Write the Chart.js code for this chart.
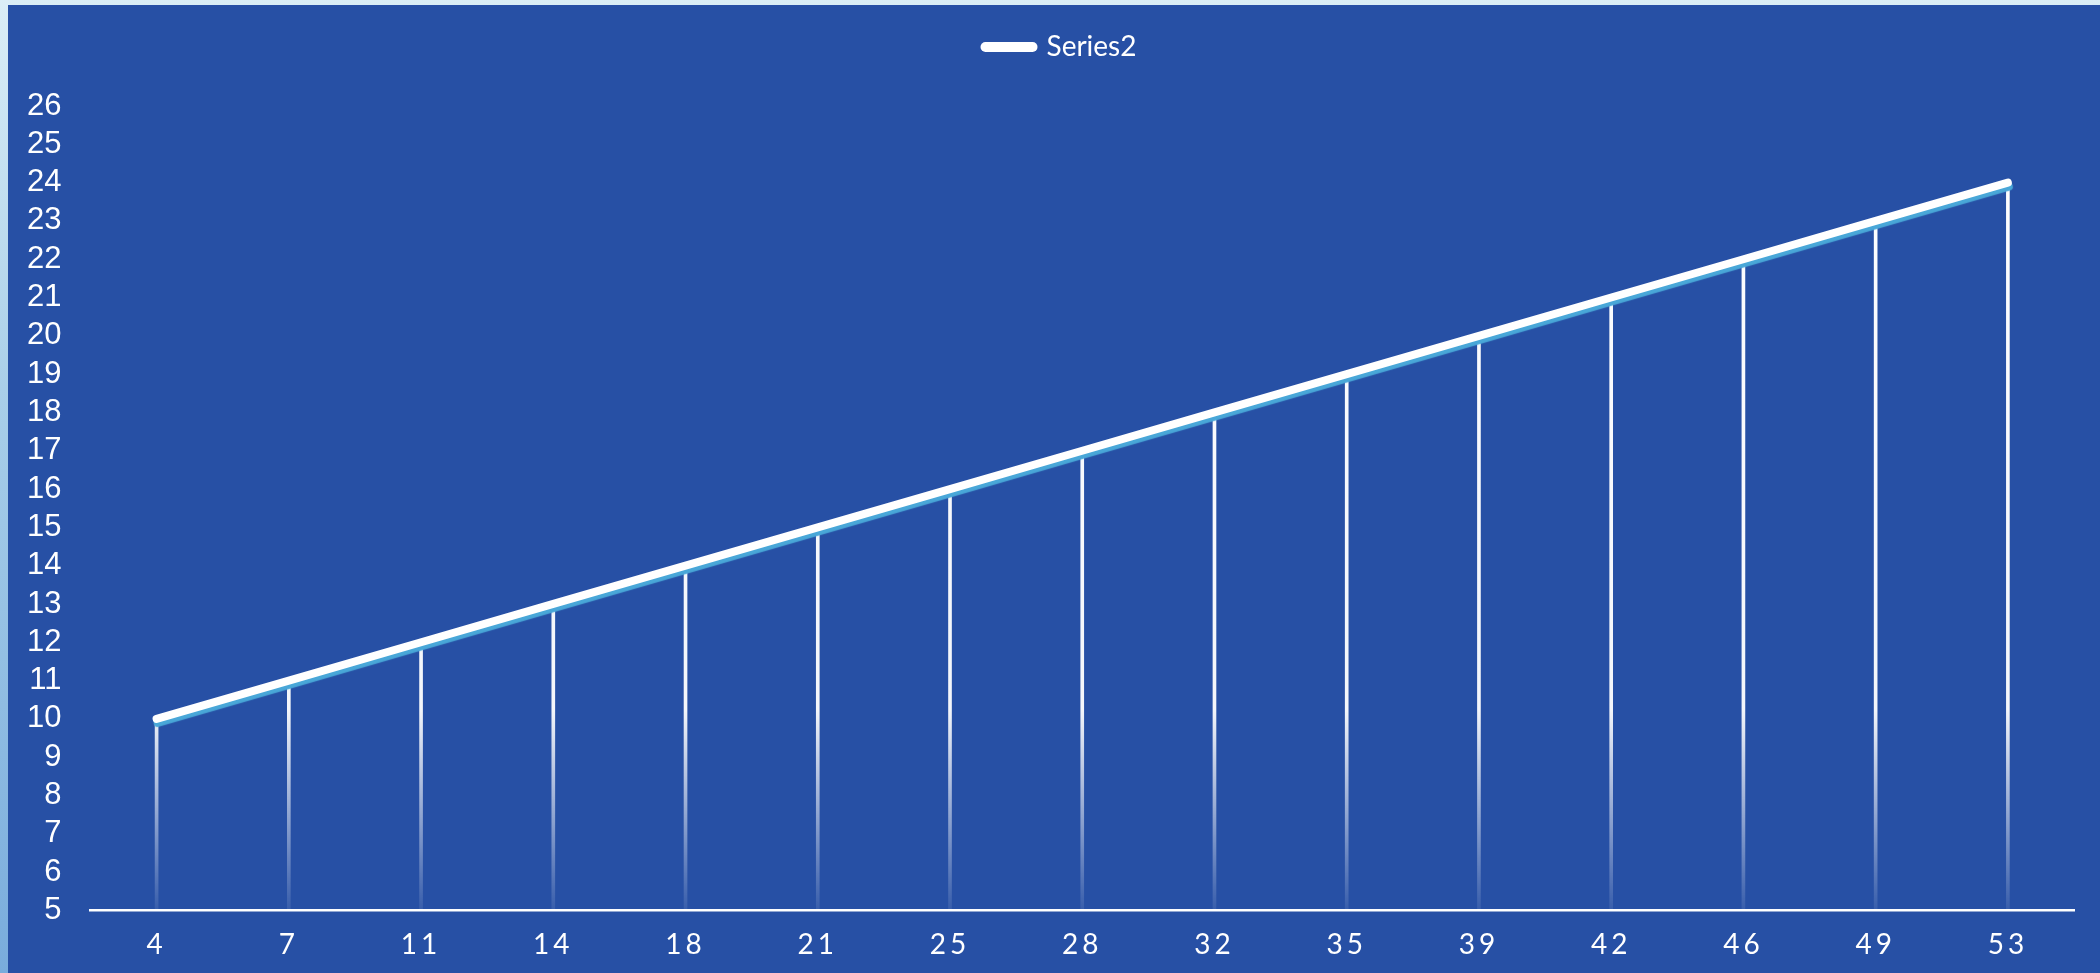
<!DOCTYPE html>
<html>
<head>
<meta charset="utf-8">
<script src="https://cdn.jsdelivr.net/npm/chart.js@4/dist/chart.umd.min.js"></script>
<style>
  html, body { margin: 0; padding: 0; }
  body {
    width: 2100px; height: 973px; overflow: hidden;
    background: linear-gradient(to bottom, #dbeef6 0%, #a9cfe9 40%, #79acdc 100%);
  }
  #wrap {
    position: absolute; left: 8px; top: 5px; width: 2092px; height: 968px;
    background: #2750a5;
  }
</style>
</head>
<body>
<div id="wrap"><canvas id="myChart"></canvas></div>
<script>
// values
const categories = ["4", "7", "11", "14", "18", "21", "25", "28", "32", "35", "39", "42", "46", "49", "53"];
const series2 = [10, 11, 12, 13, 14, 15, 16, 17, 18, 19, 20, 21, 22, 23, 24];
const yMin = 5;
const yMax = 26;
const yStep = 1;

// drop lines fade out toward the axis
function dropGradient(context) {
  const chart = context.chart;
  const area = chart.chartArea;
  if (!area) return "rgba(255,255,255,0.9)";
  const g = chart.ctx.createLinearGradient(0, area.bottom, 0, area.top);
  g.addColorStop(0, "rgba(255,255,255,0.08)");
  g.addColorStop(0.25, "rgba(255,255,255,0.95)");
  g.addColorStop(1, "rgba(255,255,255,1)");
  return g;
}

const lineShadow = {
  id: "lineShadow",
  beforeDatasetDraw(chart, args) {
    if (args.meta.type !== "line") return;
    const c = chart.ctx;
    c.save();
    c.shadowColor = "#49a7d8";
    c.shadowOffsetX = 1;
    c.shadowOffsetY = 4;
    c.shadowBlur = 1;
  },
  afterDatasetDraw(chart, args) {
    if (args.meta.type === "line") chart.ctx.restore();
  },
};

// extra room under the legend, and nudge it a bit to the right
const legendGap = {
  id: "legendGap",
  beforeInit(chart) {
    const fit = chart.legend.fit;
    chart.legend.fit = function () {
      fit.bind(chart.legend)();
      this.height += 35;
    };
  },
  afterLayout(chart) {
    chart.legend.left += 25;
    chart.legend.right += 25;
  },
};

const spacedTicks = {
  id: "spacedTicks",
  afterUpdate(chart) {
    const sx = chart.scales.x;
    if (sx._spaced) return;
    const draw = sx.drawLabels;
    sx.drawLabels = function (area) {
      const c = this.ctx;
      c.save();
      c.letterSpacing = "4px";
      draw.call(this, area);
      c.restore();
    };
    sx._spaced = true;
  },
};

Chart.defaults.color = "#ffffff";

new Chart(document.getElementById("myChart"), {
  data: {
    labels: categories,
    datasets: [
      {
        type: "line",
        label: "Series2",
        data: series2,
        borderColor: "#ffffff",
        backgroundColor: "#ffffff",
        borderWidth: 8,
        borderCapStyle: "round",
        borderJoinStyle: "round",
        pointRadius: 0,
        pointHoverRadius: 0,
        order: 0,
      },
      {
        type: "bar",
        label: "drop",
        data: series2,
        backgroundColor: dropGradient,
        barThickness: 3,
        order: 1,
      },
    ],
  },
  options: {
    responsive: true,
    maintainAspectRatio: false,
    devicePixelRatio: 1,
    animation: false,
    layout: { padding: { top: 18, left: -10, right: 26, bottom: -7 } },
    plugins: {
      tooltip: { enabled: false },
      legend: {
        position: "top",
        labels: {
          color: "#ffffff",
          font: { family: "Lato", size: 28 },
          usePointStyle: true,
          pointStyle: "line",
          pointStyleWidth: 47,
          boxHeight: 10,
          padding: 10,
          filter: (item) => item.text === "Series2",
          generateLabels(chart) {
            const items = Chart.defaults.plugins.legend.labels.generateLabels(chart);
            items.forEach((it) => {
              it.lineWidth = 10;
              it.lineCap = "round";
              it.pointStyle = "line";
              it.strokeStyle = "#ffffff";
            });
            return items;
          },
        },
      },
    },
    scales: {
      x: {
        type: "category",
        offset: true,
        grid: { display: false, drawTicks: false },
        border: { display: true, color: "#ffffff", width: 2.5 },
        ticks: {
          color: "#ffffff",
          padding: 18,
          maxRotation: 0,
          font: { family: "Lato", size: 28 },
        },
      },
      y: {
        min: yMin,
        max: yMax,
        grid: { display: false, drawTicks: false },
        border: { display: false },
        ticks: {
          stepSize: yStep,
          autoSkip: false,
          color: "#ffffff",
          padding: 29,
          font: { family: "Liberation Sans", size: 31 },
        },
      },
    },
  },
  plugins: [lineShadow, legendGap, spacedTicks],
});
</script>
</body>
</html>
